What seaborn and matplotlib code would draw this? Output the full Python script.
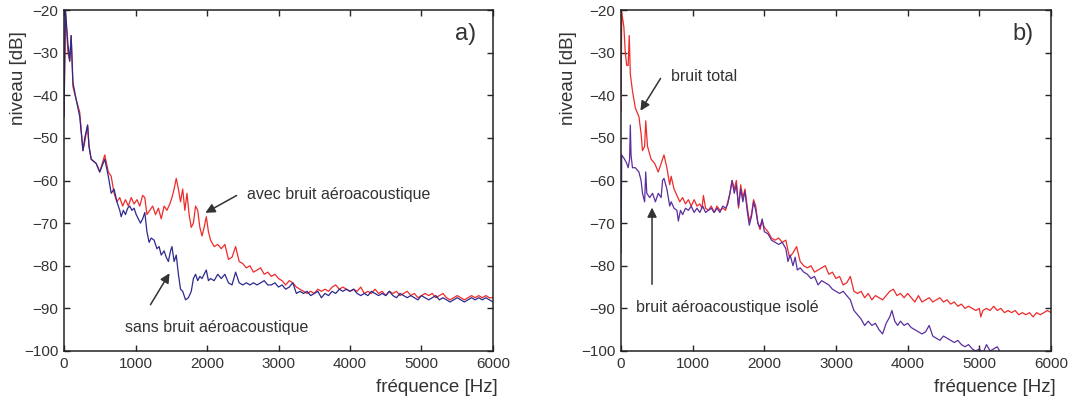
import numpy as np
import pandas as pd
import matplotlib
matplotlib.use("Agg")
import matplotlib.pyplot as plt
import seaborn as sns

# panel a) - spectra with / without aeroacoustic noise
freq_a_avec = [0, 20, 55, 80, 100, 125, 170, 220, 265, 290, 330, 350, 380, 450, 500, 570,
               620, 660,
               700, 740, 780, 820, 860, 900, 940, 980, 1020, 1060, 1100, 1130, 1160, 1200,
               1240, 1280, 1320, 1360, 1400, 1440, 1480, 1510, 1540, 1570, 1600, 1630, 1660,
               1690, 1720, 1750, 1780, 1810, 1840, 1870, 1900, 1930, 1960, 1990, 2020,
               2050, 2100, 2150, 2200, 2250, 2300, 2350, 2400, 2450, 2500, 2550, 2600, 2650,
               2700, 2750, 2800, 2850, 2900, 2950, 3000, 3050, 3100, 3150, 3200, 3250, 3300,
               3350, 3400, 3450, 3500, 3550, 3600, 3650, 3700, 3750, 3800, 3850, 3900, 3950,
               4000, 4050, 4100, 4150, 4200, 4250, 4300, 4350, 4400, 4450, 4500, 4550, 4600,
               4650, 4700, 4750, 4800, 4850, 4900, 4950, 5000, 5050, 5100, 5150, 5200, 5250,
               5300, 5350, 5400, 5450, 5500, 5550, 5600, 5650, 5700, 5750, 5800, 5850, 5900,
               5950, 6000]
niv_a_avec = [-45, -20, -30, -32, -26, -38, -41, -44, -53, -51, -47, -52, -55, -56, -58, -54,
              -58, -59,
              -63, -65, -64, -66, -64.5, -66, -64, -65.5, -64.5, -66, -63.5, -64, -68, -67,
              -66, -68, -66.5, -69, -66, -67, -65.5, -64, -62, -59.5, -62, -65, -62,
              -67, -63, -68, -71, -70, -66, -67, -71, -73, -71, -68.5, -72,
              -74, -75.5, -75, -76, -75, -78.5, -78, -75.5, -79, -79.5, -80.5, -80, -81.5,
              -81, -80.5, -82, -81.5, -82.5, -82, -83, -83.5, -84.5, -83.5, -84, -85, -85.5,
              -86, -86.5, -86, -86.5, -85.5, -86, -85.5, -86, -85, -84.5, -85.5, -85, -85.5,
              -86, -85.5, -86, -85, -86.5, -86, -86.5, -85.5, -86.5, -86, -87, -86, -86.5,
              -86, -87, -86.5, -86, -87, -86.5, -87.5, -87, -86.5, -87, -86.5, -87.5, -87,
              -86.5, -87.5, -88, -87.5, -87, -87.5, -88, -87.5, -87, -87.5, -87, -87.5, -87,
              -87.5, -87.5]

freq_a_sans = [0, 20, 55, 80, 100, 125, 170, 220, 265, 290, 330, 350, 380, 450, 500, 570,
               620, 660,
               700, 740, 780, 800, 830, 860, 890, 920, 950, 980, 1010, 1040, 1070, 1100, 1130,
               1160, 1190, 1220, 1260, 1300, 1330, 1360, 1400, 1430, 1460, 1490, 1510, 1540,
               1570, 1600, 1630, 1660, 1700, 1740, 1780, 1810, 1840, 1870, 1900, 1930, 1960,
               1990, 2020,
               2050, 2100, 2150, 2200, 2250, 2300, 2350, 2400, 2450, 2500, 2550, 2600, 2650,
               2700, 2750, 2800, 2850, 2900, 2950, 3000, 3050, 3100, 3150, 3200, 3250, 3300,
               3350, 3400, 3450, 3500, 3550, 3600, 3650, 3700, 3750, 3800, 3850, 3900, 3950,
               4000, 4050, 4100, 4150, 4200, 4250, 4300, 4350, 4400, 4450, 4500, 4550, 4600,
               4650, 4700, 4750, 4800, 4850, 4900, 4950, 5000, 5050, 5100, 5150, 5200, 5250,
               5300, 5350, 5400, 5450, 5500, 5550, 5600, 5650, 5700, 5750, 5800, 5850, 5900,
               5950, 6000]
niv_a_sans = [-45, -20, -28, -32, -26, -37, -41, -45, -53, -50, -47, -52, -55, -56, -58, -55,
              -59, -63,
              -62, -65, -67, -68.5, -67, -68, -66.5, -66, -67, -66.5, -68, -69, -70, -69, -67.5,
              -72, -74.5, -73.5, -74, -76, -75.5, -77.5, -76.5, -78, -79, -76.5, -75.5, -79,
              -77.5, -82, -85.5, -86, -88, -87.5, -86, -83, -82, -83.5, -82.5, -83, -82,
              -81, -83.5,
              -83, -83.5, -82, -83, -82, -84, -84.5, -81.5, -84, -84.5, -84, -84.5, -84,
              -84.5, -84, -83.5, -84.5, -84.5, -84, -85, -84.5, -85.5, -85, -84, -86.5, -86,
              -86.5, -86, -87, -86.5, -86, -87.5, -86.5, -87, -86, -86.5, -85.5, -86, -85.5,
              -86, -85.5, -86.5, -87, -86.5, -87, -86, -86.5, -87, -86.5, -87, -86, -87,
              -87.5, -86.5, -87, -87.5, -87, -87.5, -88, -87, -87.5, -88, -87.5, -87, -88,
              -87.5, -88, -88.5, -88, -87.5, -88, -88.5, -88, -87.5, -88, -87.5, -88, -87.5,
              -88, -88.5]

# panel b) - total noise / isolated aeroacoustic noise
freq_b_total = [0, 10, 40, 60, 80, 100, 115, 130, 160, 200, 250, 280, 300, 330, 345, 370,
                420, 470, 520, 560, 600, 640, 680,
                700, 740, 780, 820, 860, 900, 940, 980, 1020, 1060, 1100, 1130, 1150, 1180,
                1220, 1260, 1300, 1340, 1380, 1420, 1460, 1490, 1520, 1550, 1580, 1610, 1640,
                1670, 1700, 1730, 1760, 1790, 1820, 1850, 1880, 1910, 1940, 1970, 2000,
                2050, 2100, 2150, 2200, 2250, 2300, 2350, 2400, 2450, 2500, 2550, 2600, 2650,
                2700, 2750, 2800, 2850, 2900, 2950, 3000, 3050, 3100, 3150, 3200, 3250, 3300,
                3350, 3400, 3450, 3500, 3550, 3600, 3650, 3700, 3750, 3800, 3850, 3900, 3950,
                4000, 4050, 4100, 4150, 4200, 4250, 4300, 4350, 4400, 4450, 4500, 4550, 4600,
                4650, 4700, 4750, 4800, 4850, 4900, 4950, 5000, 5020, 5050, 5100, 5150, 5200,
                5250, 5300, 5350, 5400, 5450, 5500, 5550, 5600, 5650, 5700, 5750, 5800, 5850,
                5900, 5950, 6000]
niv_b_total = [-44, -20.5, -24, -30, -33, -33, -26, -35, -39, -43, -45, -49, -53, -52, -46, -52,
               -55, -56, -58, -56, -54, -57, -61,
               -59, -62, -63.5, -65, -64, -65.5, -64.5, -66, -64.5, -66, -65.5, -66.5, -63.5, -66.5,
               -67, -66, -67.5, -66, -67, -66.5, -67, -65, -63, -60, -62, -60, -66.5,
               -61, -64, -62, -66, -69.5, -68, -64.5, -66, -70, -71.5, -69.5, -71,
               -72, -73.5, -74, -73.5, -74.5, -74, -78, -77, -75.5, -79, -80, -80.5, -80,
               -81.5, -81, -80.5, -80, -82, -81.5, -83, -82.5, -84.5, -84, -82.5, -86, -86.5,
               -86, -87.5, -86.5, -88, -87, -87.5, -88, -87, -86, -85.5, -87, -86.5, -87.5,
               -86.5, -87.5, -88.5, -87, -88.5, -88, -87.5, -88.5, -88, -87.5, -88.5, -88, -89,
               -88.5, -89.5, -89, -90, -89.5, -90, -90.5, -90, -92, -90.5, -90, -90.5, -89.5,
               -90.5, -90, -91, -90.5, -91, -90.5, -91.5, -91, -91.5, -91, -92, -91, -91.5,
               -91, -90.5, -91]

freq_b_isole = [0, 10, 50, 80, 100, 120, 130, 140, 160, 200, 250, 280, 300, 330, 345, 360,
                400, 440, 480, 520, 560, 580, 600, 640, 680,
                700, 740, 780, 800, 830, 860, 900, 940, 980, 1020, 1060, 1100, 1140, 1180,
                1220, 1260, 1300, 1340, 1380, 1420, 1460, 1490, 1520, 1550, 1580, 1610, 1640,
                1670, 1700, 1730, 1760, 1790, 1820, 1850, 1880, 1910, 1940, 1970, 2000,
                2050, 2100, 2150, 2200, 2250, 2300, 2330, 2360, 2400, 2430, 2460, 2500, 2550,
                2600, 2650, 2700, 2750, 2800, 2850, 2900, 2950, 3000, 3050, 3100, 3150, 3200,
                3250, 3300, 3350, 3400, 3450, 3500, 3550, 3600, 3650, 3700, 3750, 3780, 3820,
                3860, 3900, 3950, 4000, 4050, 4100, 4150, 4200, 4250, 4300, 4350, 4400, 4450,
                4500, 4550, 4600, 4650, 4700, 4750, 4800, 4850, 4900, 4950, 5000, 5050, 5100,
                5150, 5200, 5250, 5300]
niv_b_isole = [-77, -54, -55, -56, -57, -55, -47, -54, -57, -57, -58, -60, -63, -65, -58, -63,
               -64, -63, -65, -63, -64, -60, -59.5, -62, -66,
               -65, -66.5, -67, -69.5, -67, -68, -66.5, -67, -66, -67.5, -66.5, -67.5, -66, -67.5,
               -67, -66.5, -67.5, -66.5, -67.5, -66, -66.5, -65.5, -63, -60, -63, -61, -66,
               -62, -65, -62.5, -67, -70.5, -68.5, -65, -67, -70, -71, -69, -72,
               -72.5, -74, -74.5, -75, -74.5, -76, -79, -77.5, -80, -78, -81, -80.5, -81.5,
               -82, -83, -82.5, -84.5, -83.5, -84, -84.5, -85.5, -86, -86.5, -86, -87, -88,
               -90.5, -91.5, -92.5, -94, -93, -94, -93.5, -95, -96, -93.5, -92, -90.5, -93,
               -94, -93, -94, -93.5, -94.5, -95, -95.5, -96, -95.5, -94, -96.5, -97, -97.5,
               -96.5, -97, -97.5, -98, -97.5, -98.5, -99, -98.5, -99.5, -100, -99.5, -100.5, -98.5,
               -100, -99.5, -99, -100.5]

RED = "#ee2b2b"
BLUE = "#2c2a8e"
PURPLE = "#5b2e9e"
GREY = "#333333"

sns.set_style("ticks")
plt.rcParams["font.family"] = ["Liberation Sans", "DejaVu Sans"]

fig = plt.figure(figsize=(10.89, 4.01), dpi=100)
ax_a = fig.add_axes([64 / 1089, 50 / 401, 429 / 1089, 341 / 401])
ax_b = fig.add_axes([621 / 1089, 50 / 401, 430 / 1089, 341 / 401])

df_a1 = pd.DataFrame({"f": freq_a_avec, "niv": niv_a_avec})
df_a2 = pd.DataFrame({"f": freq_a_sans, "niv": niv_a_sans})
df_b1 = pd.DataFrame({"f": freq_b_total, "niv": niv_b_total})
df_b2 = pd.DataFrame({"f": freq_b_isole, "niv": niv_b_isole})

sns.lineplot(data=df_a1, x="f", y="niv", ax=ax_a, color=RED, lw=0.9, sort=False)
sns.lineplot(data=df_a2, x="f", y="niv", ax=ax_a, color=BLUE, lw=0.9, sort=False)
sns.lineplot(data=df_b1, x="f", y="niv", ax=ax_b, color=RED, lw=0.9, sort=False)
sns.lineplot(data=df_b2, x="f", y="niv", ax=ax_b, color=PURPLE, lw=0.9, sort=False)

for ax, tag in [(ax_a, "a)"), (ax_b, "b)")]:
    ax.set_xlim(0, 6000)
    ax.set_ylim(-100, -20)
    ax.set_xticks(range(0, 6001, 1000))
    ax.set_yticks(range(-100, -19, 10))
    ax.tick_params(direction="in", length=4, width=1, top=True, right=True,
                   labelsize=11, labelcolor=GREY, pad=4)
    for sp in ax.spines.values():
        sp.set_visible(True)
        sp.set_linewidth(1.1)
        sp.set_color("#222222")
    ax.set_xlabel("")
    ax.set_ylabel("")
    ax.text(0.96, 0.93, tag, transform=ax.transAxes, fontsize=17, color=GREY,
            ha="right", va="center")
    ax.text(1.012, -0.106, "fréquence [Hz]", transform=ax.transAxes, fontsize=13.5,
            color=GREY, ha="right", va="center")

ax_a.text(-0.105, 0.80, "niveau [dB]", transform=ax_a.transAxes, rotation=90,
          fontsize=13.5, color=GREY, ha="center", va="center")
ax_b.text(-0.123, 0.80, "niveau [dB]", transform=ax_b.transAxes, rotation=90,
          fontsize=13.5, color=GREY, ha="center", va="center")

arrow = dict(arrowstyle="-|>", color="#333333", lw=1.1, mutation_scale=14)
ax_a.annotate("", xy=(1944, -67.9), xytext=(2448, -63.2), arrowprops=arrow)
ax_a.text(2560, -63.2, "avec bruit aéroacoustique", fontsize=11.5, color=GREY, va="center")
ax_a.annotate("", xy=(1496, -81.2), xytext=(1189, -89.7), arrowprops=arrow)
ax_a.text(853, -94.6, "sans bruit aéroacoustique", fontsize=11.5, color=GREY, va="center")

ax_b.annotate("", xy=(251, -44.2), xytext=(572, -35.5), arrowprops=arrow)
ax_b.text(698, -35.7, "bruit total", fontsize=11.5, color=GREY, va="center")
ax_b.annotate("", xy=(433, -65.7), xytext=(433, -85), arrowprops=arrow)
ax_b.text(209, -89.7, "bruit aéroacoustique isolé", fontsize=11.5, color=GREY, va="center")

fig.savefig("out.png", dpi=100, facecolor="white")
